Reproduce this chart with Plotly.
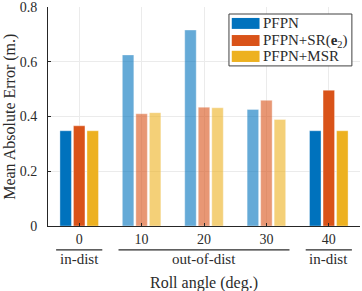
import plotly.graph_objects as go

categories = ["0", "10", "20", "30", "40"]
pfpn = [0.348, 0.625, 0.716, 0.426, 0.348]
pfpn_sr = [0.366, 0.410, 0.434, 0.459, 0.496]
pfpn_msr = [0.348, 0.414, 0.432, 0.389, 0.348]
in_dist = [True, False, False, False, True]
series_names = ["PFPN", "PFPN+SR(<b>e</b><sub>2</sub>)", "PFPN+MSR"]
colors = ["#0072BD", "#D95319", "#EDB120"]
y_ticks = [0, 0.2, 0.4, 0.6, 0.8]
y_tick_labels = ["0", "0.2", "0.4", "0.6", "0.8"]
groups = [("in-dist", 0, 0), ("out-of-dist", 1, 3), ("in-dist", 4, 4)]

FONT = "Liberation Serif"
TXT = "#2b2b2b"

fig = go.Figure()
opac = [1.0 if d else 0.6 for d in in_dist]
for name, vals, col in zip(series_names, [pfpn, pfpn_sr, pfpn_msr], colors):
    fig.add_trace(go.Bar(x=categories, y=vals, name=name,
                         marker=dict(color=col, opacity=opac,
                                     line=dict(color="rgba(255,255,255,0.6)", width=0.6)),
                         showlegend=False))

# group brackets under the x axis
for label, a, b in groups:
    fig.add_shape(type="line", xref="x", yref="paper", x0=a - 0.37, x1=b + 0.37,
                  y0=-0.109, y1=-0.109, line=dict(color=TXT, width=1.3))
    fig.add_annotation(xref="x", yref="paper", x=(a + b) / 2, y=-0.152, text=label,
                       showarrow=False, font=dict(family=FONT, size=15, color=TXT),
                       yanchor="middle")

# custom legend
fig.add_shape(type="rect", xref="paper", yref="paper", x0=0.580, x1=0.974, y0=0.731, y1=0.968,
              line=dict(color="#404040", width=1), fillcolor="white", layer="above")
rows = [(0.950, 0.900, 0.925), (0.872, 0.822, 0.847), (0.800, 0.749, 0.774)]
for (y1, y0, yc), name, col in zip(rows, series_names, colors):
    fig.add_shape(type="rect", xref="paper", yref="paper", x0=0.589, x1=0.678, y0=y0, y1=y1,
                  line=dict(width=0), fillcolor=col, layer="above")
    fig.add_annotation(xref="paper", yref="paper", x=0.683, y=yc, text=name, showarrow=False,
                       xanchor="left", yanchor="middle",
                       font=dict(family=FONT, size=15, color=TXT))

fig.add_annotation(xref="paper", yref="paper", x=0.5, y=-0.262, text="Roll angle (deg.)",
                   showarrow=False, yanchor="middle", font=dict(family=FONT, size=16, color=TXT))
fig.add_annotation(xref="paper", yref="paper", x=-0.124, y=0.5, text="Mean Absolute Error (m.)",
                   showarrow=False, textangle=-90, xanchor="center", yanchor="middle",
                   font=dict(family=FONT, size=16, color=TXT))

fig.update_layout(
    width=362, height=291,
    margin=dict(l=48, r=2, t=7, b=64.5, autoexpand=False),
    paper_bgcolor="white", plot_bgcolor="white",
    barmode="group", bargap=0.35, bargroupgap=0.15,
    font=dict(family=FONT, size=14, color=TXT),
    xaxis=dict(type="category", range=[-0.5, 4.5], showgrid=True, gridcolor="#EBEBEB",
               showline=True, linecolor="#262626", linewidth=1, automargin=False,
               ticks="inside", ticklen=3, tickcolor="#262626",
               tickfont=dict(family=FONT, size=14, color=TXT)),
    yaxis=dict(range=[0, 0.8001], tickvals=y_ticks, ticktext=y_tick_labels,
               showgrid=True, gridcolor="#EBEBEB", zeroline=False, automargin=False,
               showline=True, linecolor="#262626", linewidth=1,
               ticks="inside", ticklen=3, tickcolor="#262626",
               ticklabelstandoff=7, ticklabeloverflow="allow",
               tickfont=dict(family=FONT, size=14, color=TXT)),
)

fig.write_html("out.html", config={"displayModeBar": False},
               post_script="document.body.style.margin='0';document.body.style.overflow='hidden';")
